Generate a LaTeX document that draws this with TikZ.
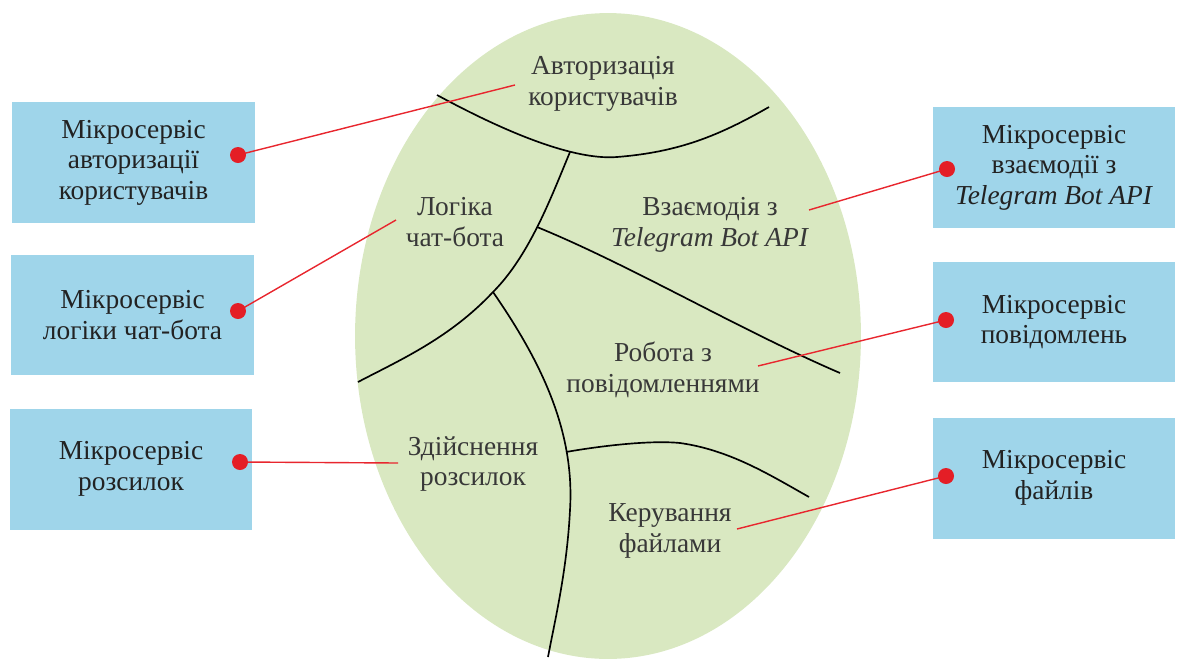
\documentclass[tikz,border=0pt]{standalone}
\usepackage{fontspec}
\setmainfont{Liberation Serif}
\definecolor{boxblue}{HTML}{9FD5EA}
\definecolor{areagreen}{HTML}{D9E8C1}
\definecolor{linkred}{HTML}{E8262E}
\definecolor{dotred}{HTML}{E41E26}
\definecolor{txtgray}{HTML}{383838}
\definecolor{boxtxt}{HTML}{222222}
\begin{document}
\begin{tikzpicture}[x=0.02cm,y=-0.02cm,
  svcbox/.style={rectangle, fill=boxblue, draw=none, minimum width=4.86cm,
    minimum height=2.42cm, inner sep=0pt, align=center, text=boxtxt,
    font=\fontsize{15.6}{17.4}\selectfont},
  area/.style={align=center, text=txtgray, inner sep=0pt,
    font=\fontsize{15.6}{17.4}\selectfont},
  border/.style={black, line width=0.95pt},
  link/.style={linkred, line width=0.8pt},
  pin/.style={circle, fill=dotred, draw=none, minimum size=0.32cm, inner sep=0pt}]
\useasboundingbox (0,0) rectangle (1177,664);

% domain ellipse
\fill[areagreen] (608,336) ellipse [x radius=5.06cm, y radius=6.46cm];

% region borders
\draw[border] (437,95) .. controls (520,140) and (580,160) .. (617,157)
  .. controls (680,152) and (720,135) .. (769,107);
\draw[border] (570,152) .. controls (552,195) and (530,255) .. (493,292)
  .. controls (450,338) and (400,360) .. (358,382);
\draw[border] (537,227) .. controls (630,265) and (740,330) .. (840,373);
\draw[border] (493,292) .. controls (540,360) and (575,430) .. (570,510)
  .. controls (567,570) and (555,620) .. (548,657);
\draw[border] (566,452) .. controls (600,446) and (650,440) .. (680,443)
  .. controls (730,450) and (770,475) .. (809,497);

% region labels
\node[area] (auth) at (603,84) {Авторизація\\користувачів};
\node[area] (logic) at (455,222) {Логіка\\чат-бота};
\node[area] (tg) at (710,225) {Взаємодія з\\\textit{Telegram Bot API}};
\node[area] (msg) at (663,370) {Робота з\\повідомленнями};
\node[area] (mail) at (473,464) {Здійснення\\розсилок};
\node[area] (files) at (670,531) {Керування\\файлами};

% microservice boxes
\node[svcbox] (sauth) at (133.5,162.5) {Мікросервіс\\авторизації\\користувачів};
\node[svcbox] (slogic) at (132.5,315) {Мікросервіс\\логіки чат-бота};
\node[svcbox] (smail) at (131,469) {Мікросервіс\\розсилок};
\node[svcbox] (stg) at (1054,167.5) {Мікросервіс\\взаємодії з\\\textit{Telegram Bot API}};
\node[svcbox] (smsg) at (1054,322) {Мікросервіс\\повідомлень};
\node[svcbox] (sfiles) at (1054,478) {Мікросервіс\\файлів};

% link ends inside the regions
\coordinate (eauth) at (515,85);
\coordinate (elogic) at (396,220);
\coordinate (email) at (398,463);
\coordinate (etg) at (809,210);
\coordinate (emsg) at (758,366);
\coordinate (efiles) at (737,529);

% pins
\coordinate (pauth) at (238,155);
\coordinate (plogic) at (238,311);
\coordinate (pmail) at (240,462);
\coordinate (ptg) at (947,169);
\coordinate (pmsg) at (946,320);
\coordinate (pfiles) at (946,476);

\draw[link] (pauth) -- (eauth);
\draw[link] (plogic) -- (elogic);
\draw[link] (pmail) -- (email);
\draw[link] (ptg) -- (etg);
\draw[link] (pmsg) -- (emsg);
\draw[link] (pfiles) -- (efiles);

\node[pin] (dauth) at (pauth) {};
\node[pin] (dlogic) at (plogic) {};
\node[pin] (dmail) at (pmail) {};
\node[pin] (dtg) at (ptg) {};
\node[pin] (dmsg) at (pmsg) {};
\node[pin] (dfiles) at (pfiles) {};
\end{tikzpicture}
\end{document}
